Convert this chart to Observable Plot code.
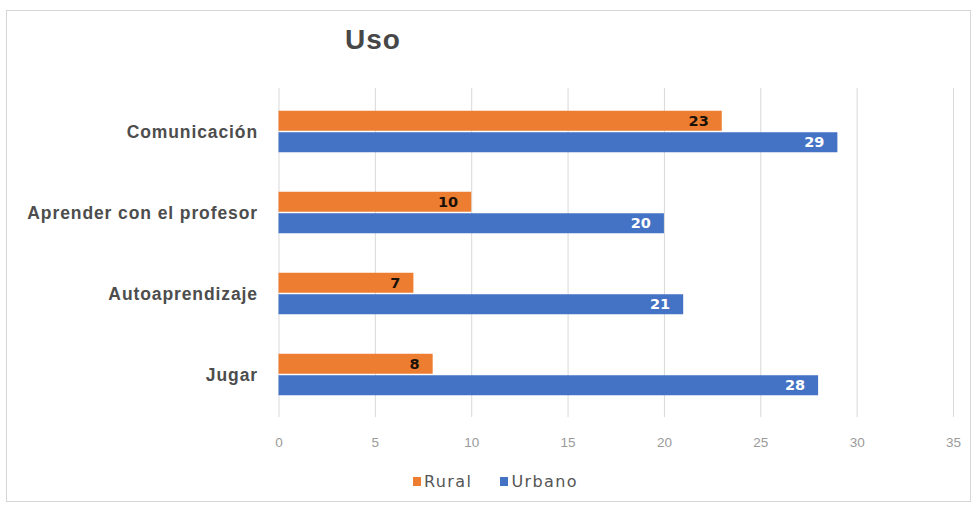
<!DOCTYPE html>
<html>
<head>
<meta charset="utf-8">
<script src="https://cdn.jsdelivr.net/npm/d3@7"></script>
<script src="https://cdn.jsdelivr.net/npm/@observablehq/plot@0.6"></script>
<style>
  html, body { margin: 0; padding: 0; background: #ffffff; }
  #wrap { position: relative; width: 977px; height: 509px; overflow: hidden; background: #fff; }
  #frame { position: absolute; left: 6px; top: 10px; width: 965px; height: 492px; border: 1px solid #d6d6d6; box-sizing: border-box; }
  #title { position: absolute; left: 345px; top: 26px; line-height: 1; font-family: "Liberation Sans", Arial, sans-serif; font-weight: bold; font-size: 28px; letter-spacing: 1px; color: #474747; }
  #chart { position: absolute; left: 0; top: 80px; }
  #legend { position: absolute; left: 413px; top: 472px; display: flex; align-items: center; font-family: "DejaVu Sans", sans-serif; font-size: 16px; letter-spacing: 1.4px; color: #555; }
  .sw { display: inline-block; width: 8px; height: 9px; margin-right: 3px; }
  .item { display: flex; align-items: center; margin-right: 28px; }
</style>
</head>
<body>
<div id="wrap">
  <div id="frame"></div>
  <div id="title"></div>
  <div id="chart"></div>
  <div id="legend"></div>
</div>
<script>
const categories = ["Comunicación", "Aprender con el profesor", "Autoaprendizaje", "Jugar"];
const rural = [23, 10, 7, 8];
const urbano = [29, 20, 21, 28];
const series = ["Rural", "Urbano"];
const seriesColors = ["#ED7D31", "#4472C4"];
const xTicks = [0, 5, 10, 15, 20, 25, 30, 35];
const titleText = "Uso";

document.getElementById("title").textContent = titleText;

const ruralData = categories.map((c, i) => ({cat: c, serie: "Rural", value: rural[i]}));
const urbanoData = categories.map((c, i) => ({cat: c, serie: "Urbano", value: urbano[i]}));

const H = 380, mT = 8, mB = 43, iT = 2, iB = 1;
const band = (H - mT - mB - iT - iB) / categories.length;
const half = band / 2;
const barH = 21;

const chart = Plot.plot({
  width: 977,
  height: H,
  marginLeft: 278.5,
  marginRight: 24,
  marginTop: mT,
  marginBottom: mB,
  style: {fontFamily: "DejaVu Sans, sans-serif", background: "transparent"},
  x: {domain: [0, 35]},
  y: {domain: categories, padding: 0, insetTop: iT, insetBottom: iB},
  color: {domain: series, range: seriesColors},
  marks: [
    Plot.gridX(xTicks, {stroke: "#d9d9d9", strokeOpacity: 1, strokeWidth: 1}),
    Plot.axisX(xTicks, {tickSize: 0, tickPadding: 20, fontSize: 13.5, fill: "#9a9a9a", fontFamily: "Liberation Sans, sans-serif", label: null}),
    Plot.axisY({tickSize: 0, tickPadding: 21, fontSize: 17.5, fontWeight: "bold", fill: "#4d4d4d", fontFamily: "Liberation Sans, Arial, sans-serif", label: null}),
    Plot.barX(ruralData, {x: "value", y: "cat", fill: "serie", insetTop: half - barH, insetBottom: half + 0.5}),
    Plot.barX(urbanoData, {x: "value", y: "cat", fill: "serie", insetTop: half + 0.5, insetBottom: half - barH}),
    Plot.text(ruralData, {x: "value", y: "cat", text: d => String(d.value), dy: -barH / 2, dx: -13.5, textAnchor: "end", fill: "#1a1208", fontWeight: "bold", fontSize: 14.5}),
    Plot.text(urbanoData, {x: "value", y: "cat", text: d => String(d.value), dy: barH / 2, dx: -13.5, textAnchor: "end", fill: "#ffffff", fontWeight: "bold", fontSize: 14.5})
  ]
});
document.getElementById("chart").appendChild(chart);
d3.select(chart).selectAll('g[aria-label="y-axis tick label"] text').style("letter-spacing", "0.9px");

const legend = document.getElementById("legend");
series.forEach((s, i) => {
  const item = document.createElement("span");
  item.className = "item";
  const sw = document.createElement("span");
  sw.className = "sw";
  sw.style.background = seriesColors[i];
  const t = document.createElement("span");
  t.textContent = s;
  item.appendChild(sw);
  item.appendChild(t);
  legend.appendChild(item);
});
</script>
</body>
</html>
